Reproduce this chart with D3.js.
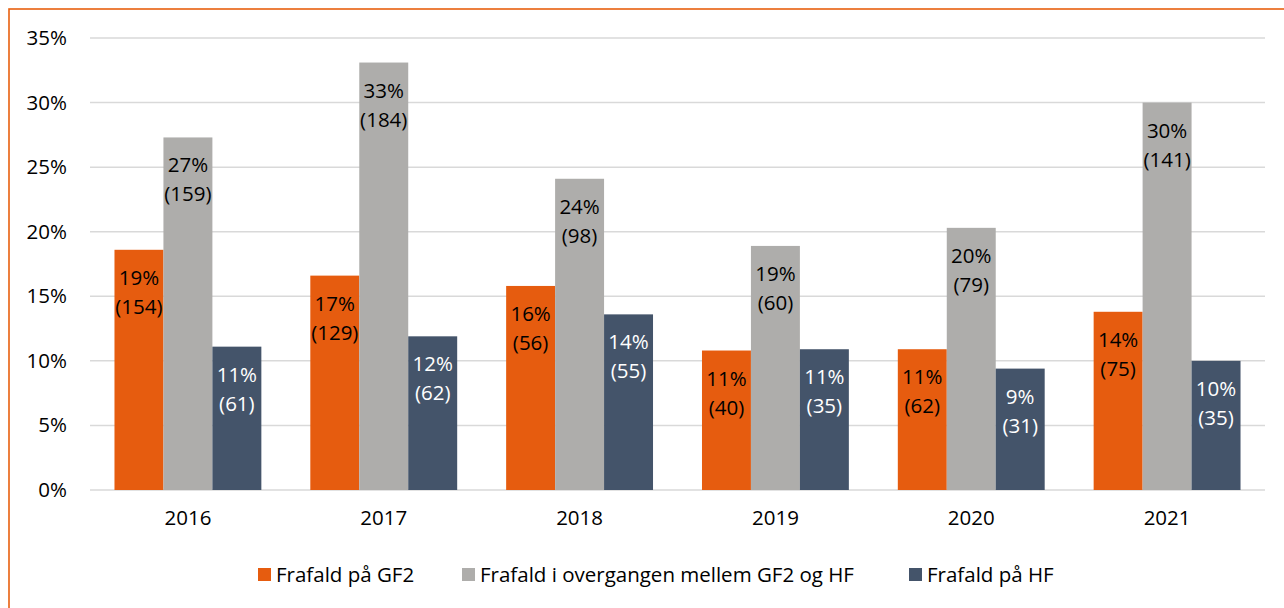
<!DOCTYPE html>
<html>
<head>
<meta charset="utf-8">
<script src="https://cdn.jsdelivr.net/npm/d3@7"></script>
<style>
	body { margin: 0; background: #fff; }
	svg text { font-family: "Open Sans", sans-serif; }
</style>
</head>
<body>
<svg width="1284" height="608"></svg>
<script>
var years = ["2016", "2017", "2018", "2019", "2020", "2021"];
var seriesNames = ["Frafald på GF2", "Frafald i overgangen mellem GF2 og HF", "Frafald på HF"];
var seriesColors = ["#E65C0F", "#AEADAB", "#44546A"];
var labelColors = ["#000", "#000", "#fff"];

var gf2 = [18.6, 16.6, 15.8, 10.8, 10.9, 13.8];
var overgang = [27.3, 33.1, 24.1, 18.9, 20.3, 30.0];
var hf = [11.1, 11.9, 13.6, 10.9, 9.4, 10.0];

var gf2Pct = ["19%", "17%", "16%", "11%", "11%", "14%"];
var overgangPct = ["27%", "33%", "24%", "19%", "20%", "30%"];
var hfPct = ["11%", "12%", "14%", "11%", "9%", "10%"];

var gf2N = [154, 129, 56, 40, 62, 75];
var overgangN = [159, 184, 98, 60, 79, 141];
var hfN = [61, 62, 55, 35, 31, 35];

var yTicks = [0, 5, 10, 15, 20, 25, 30, 35];

var values = [gf2, overgang, hf];
var pcts = [gf2Pct, overgangPct, hfPct];
var counts = [gf2N, overgangN, hfN];

var fontSize = 20.5;

var svg = d3.select("svg");

// orange frame (right and bottom edges fall outside the view)
svg.append("rect")
	.attr("x", 9)
	.attr("y", 9)
	.attr("width", 1400)
	.attr("height", 700)
	.attr("fill", "none")
	.attr("stroke", "#E8600F")
	.attr("stroke-width", 1.6);

var x = d3.scaleBand().domain(years).range([90, 1265]).paddingInner(0.25).paddingOuter(0.125);
var xs = d3.scaleBand().domain([0, 1, 2]).range([0, x.bandwidth()]).padding(0);
var y = d3.scaleLinear().domain([0, 35]).range([490, 38]);

// gridlines
svg.append("g")
	.selectAll("line")
	.data(yTicks)
	.enter().append("line")
	.attr("x1", 90)
	.attr("x2", 1265)
	.attr("y1", function(d) { return y(d); })
	.attr("y2", function(d) { return y(d); })
	.attr("stroke", "#D9D9D9")
	.attr("stroke-width", 1.5);

// y axis labels
var yAxis = svg.append("g")
	.attr("transform", "translate(90,0)")
	.call(d3.axisLeft(y).tickValues(yTicks).tickSize(0).tickPadding(23).tickFormat(function(d) { return d + "%"; }));
yAxis.select(".domain").remove();
yAxis.selectAll("text")
	.attr("font-size", fontSize)
	.attr("font-family", "Open Sans")
	.attr("fill", "#000");

// x axis labels
var xAxis = svg.append("g")
	.attr("transform", "translate(0,490)")
	.call(d3.axisBottom(x).tickSize(0).tickPadding(20));
xAxis.select(".domain").remove();
xAxis.selectAll("text")
	.attr("font-size", fontSize)
	.attr("font-family", "Open Sans")
	.attr("fill", "#000");

var bars = [];
for (var s = 0; s < 3; s++) {
	for (var i = 0; i < years.length; i++) {
		bars.push({ s: s, year: years[i], val: values[s][i], pct: pcts[s][i], n: counts[s][i] });
	}
}

svg.selectAll(".bar")
	.data(bars)
	.enter().append("rect")
	.attr("class", "bar")
	.attr("x", function(d) { return x(d.year) + xs(d.s); })
	.attr("width", xs.bandwidth())
	.attr("y", function(d) { return y(d.val); })
	.attr("height", function(d) { return y(0) - y(d.val); })
	.attr("fill", function(d) { return seriesColors[d.s]; });

var lab = svg.selectAll(".lab")
	.data(bars)
	.enter().append("text")
	.attr("class", "lab")
	.attr("text-anchor", "middle")
	.attr("font-size", fontSize)
	.attr("fill", function(d) { return labelColors[d.s]; });

lab.append("tspan")
	.attr("x", function(d) { return x(d.year) + xs(d.s) + xs.bandwidth() / 2; })
	.attr("y", function(d) { return y(d.val) + 35; })
	.text(function(d) { return d.pct; });

lab.append("tspan")
	.attr("x", function(d) { return x(d.year) + xs(d.s) + xs.bandwidth() / 2; })
	.attr("y", function(d) { return y(d.val) + 64; })
	.text(function(d) { return "(" + d.n + ")"; });

// legend
var legendX = [258, 462, 909];
var legend = svg.selectAll(".legend")
	.data(seriesNames)
	.enter().append("g")
	.attr("class", "legend")
	.attr("transform", function(d, i) { return "translate(" + legendX[i] + ",568)"; });

legend.append("rect")
	.attr("width", 13)
	.attr("height", 13)
	.attr("fill", function(d, i) { return seriesColors[i]; });

legend.append("text")
	.attr("x", 18)
	.attr("y", 14)
	.attr("font-size", fontSize)
	.attr("fill", "#000")
	.text(function(d) { return d; });
</script>
</body>
</html>
